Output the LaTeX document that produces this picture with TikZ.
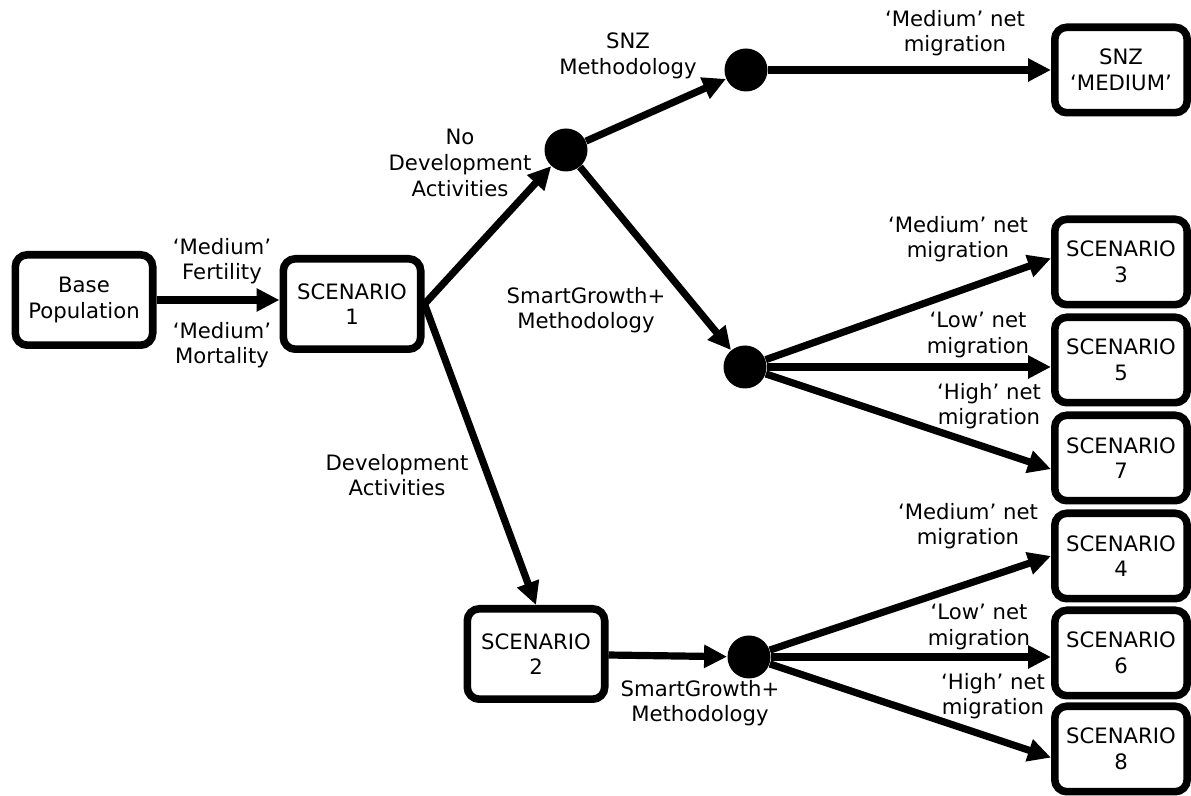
\documentclass[tikz,border=0pt]{standalone}
\usepackage{fontspec}
\setmainfont{DejaVu Sans}
\usetikzlibrary{arrows.meta,shapes}
\tikzset{box/.style={draw,line width=3.8pt,rounded corners=6pt,align=center,inner sep=0pt,minimum width=68.7pt,minimum height=45.2pt},rbox/.style={box,minimum width=66.2pt,minimum height=42.7pt},dot/.style={circle,fill,inner sep=0pt,minimum size=21.5pt},lbl/.style={align=center,inner sep=0pt},arr/.style={line width=3.6pt,-{Triangle[length=11.5pt,width=11pt]}}}

\begin{document}
\begin{tikzpicture}[x=0.5pt,y=-0.5pt,font=\fontsize{10.6}{12.8}\selectfont]
\useasboundingbox (0,0) rectangle (1191,796);
% boxes
\node[box] (base) at (84,300) {Base\\Population};
\node[box] (s1) at (352,304) {SCENARIO\\1};
\node[box] (s2) at (536,654) {SCENARIO\\2};
\node[rbox] (snz) at (1121,70) {SNZ\\‘MEDIUM’};
\node[rbox] (s3) at (1121,262) {SCENARIO\\3};
\node[rbox] (s5) at (1121,360) {SCENARIO\\5};
\node[rbox] (s7) at (1121,458) {SCENARIO\\7};
\node[rbox] (s4) at (1121,556) {SCENARIO\\4};
\node[rbox] (s6) at (1121,653) {SCENARIO\\6};
\node[rbox] (s8) at (1121,749) {SCENARIO\\8};
% branch points
\node[dot] (d1) at (566,150) {};
\node[dot] (d2) at (746,70) {};
\node[dot] (d3) at (745,367) {};
\node[dot] (d4) at (749,657) {};
% labels
\node[lbl] (fert) at (222,261) {‘Medium’\\Fertility};
\node[lbl] (mort) at (222,345) {‘Medium’\\Mortality};
\node[lbl] (nodev) at (460,163) {No\\Development\\Activities};
\node[lbl] (dev) at (397,475) {Development\\Activities};
\node[lbl] (snzm) at (628,56) {SNZ\\Methodology};
\node[lbl] (sga) at (586,310) {SmartGrowth+\\Methodology};
\node[lbl] (sgb) at (700,703) {SmartGrowth+\\Methodology};
\node[lbl] (m0) at (955,33) {‘Medium’ net\\migration};
\node[lbl] (m3) at (958,239) {‘Medium’ net\\migration};
\node[lbl] (l5) at (978,335) {‘Low’ net\\migration};
\node[lbl] (h7) at (989,406) {‘High’ net\\migration};
\node[lbl] (m4) at (968,526) {‘Medium’ net\\migration};
\node[lbl] (l6) at (979,627) {‘Low’ net\\migration};
\node[lbl] (h8) at (993,696) {‘High’ net\\migration};
\path[arr] (base.east) edge (base.east -| s1.west)
(s1.east) edge (d1) edge (s2.north)
(d1) edge (d2) edge (d3)
(d2) edge (snz)
(d3) edge (s3.177) edge (d3 -| s5.west) edge (s7.189)
(s2) edge (d4)
(d4) edge (s4.west) edge (d4 -| s6.west) edge (s8.187)
;
\end{tikzpicture}
\end{document}
